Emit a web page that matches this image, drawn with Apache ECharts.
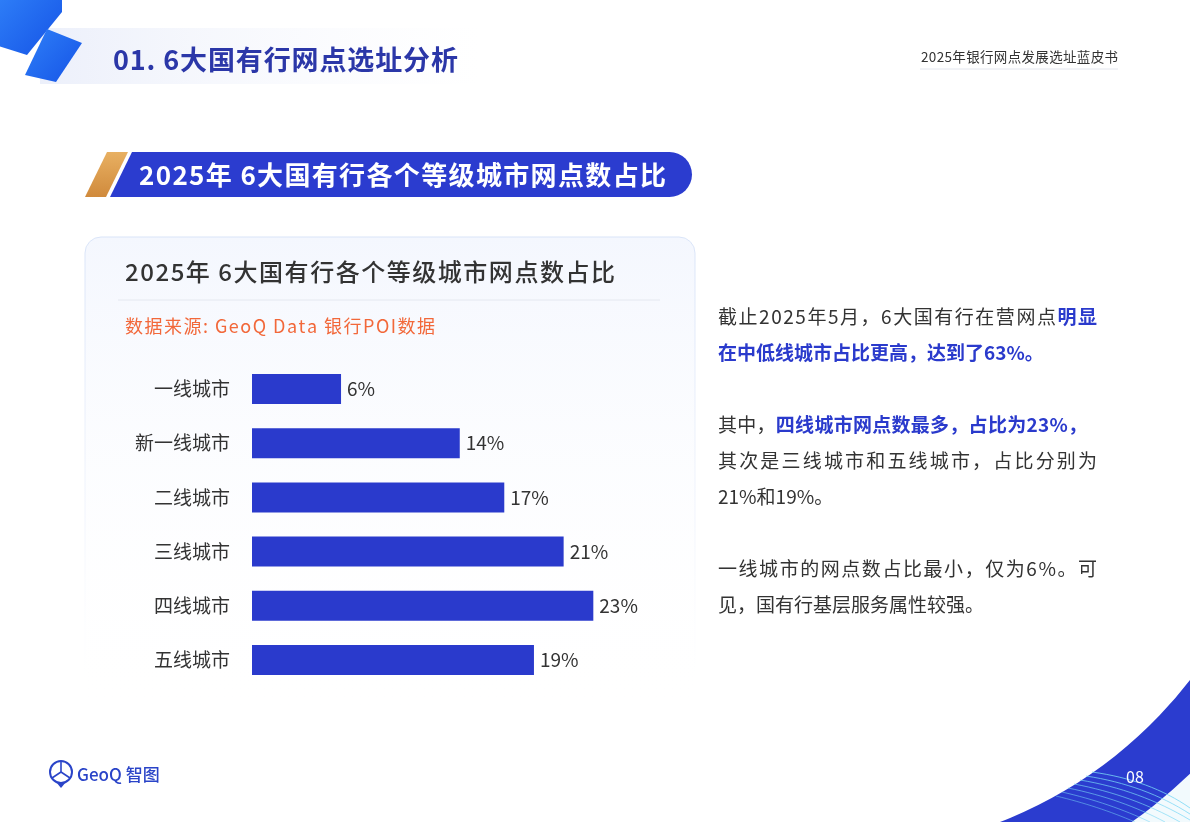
<!DOCTYPE html>
<html><head><meta charset="utf-8">
<script src="https://cdn.jsdelivr.net/npm/echarts@6/dist/echarts.min.js"></script>
<style>html,body{margin:0;padding:0;background:#fff;}#c{width:1190px;height:822px;}</style>
</head><body><div id="c"></div>
<script>
const categories = ['一线城市','新一线城市','二线城市','三线城市','四线城市','五线城市'];
const shares = [6, 14, 17, 21, 23, 19];
const xTicks = [0, 25];

const FONT = '"Noto Sans CJK SC","Noto Sans",sans-serif';
const BLUE = '#2a3acc';
const chart = echarts.init(document.getElementById('c'), null, {renderer:'canvas'});

const mctx = document.createElement('canvas').getContext('2d');
// lay out text segments char by char, spread to a target width
function spread(x, y, width, segs, z){
  const chars = [];
  segs.forEach(s => { for (const ch of s.t) { mctx.font = s.f; chars.push({ch:ch, f:s.f, c:s.c, w:mctx.measureText(ch).width}); } });
  const total = chars.reduce((a,b)=>a+b.w,0);
  const gap = chars.length > 1 ? Math.max(0, (width - total)/(chars.length-1)) : 0;
  let cx = x; const out = [];
  chars.forEach(o => { out.push({type:'text', silent:true, z:z||3, style:{x:cx, y:y, text:o.ch, font:o.f, fill:o.c, verticalAlign:'middle'}}); cx += o.w + gap; });
  return out;
}

function bez(p0,p1,p2,p3,n){
  const pts=[];
  for(let i=0;i<=n;i++){const t=i/n,u=1-t;
    pts.push([u*u*u*p0[0]+3*u*u*t*p1[0]+3*u*t*t*p2[0]+t*t*t*p3[0], u*u*u*p0[1]+3*u*u*t*p1[1]+3*u*t*t*p2[1]+t*t*t*p3[1]]);}
  return pts;
}
function cyan(x1,y1,x2,y2,cx,cy,a){
  const pts = bez([x1,y1],[x1+(cx-x1)*2/3,y1+(cy-y1)*2/3],[x2+(cx-x2)*2/3,y2+(cy-y2)*2/3],[x2,y2],16);
  const segs = [];
  for (let i=0;i<pts.length-1;i++) segs.push({type:'line', silent:true, shape:{x1:pts[i][0],y1:pts[i][1],x2:pts[i+1][0],y2:pts[i+1][1]}, style:{stroke:'rgba(120,215,245,'+a+')',lineWidth:1}, z:5});
  return segs;
}
const blueGrad = () => new echarts.graphic.LinearGradient(0,0,1,1,[{offset:0,color:'#2f80f8'},{offset:1,color:'#1553e6'}]);

const R = '19px '+FONT, B = 'bold 19px '+FONT, DK = '#333';
const RC = {cx:840.6, cy:410.6};

let graphics = [
  {type:'rect', shape:{x:40,y:28,width:440,height:56}, style:{fill:new echarts.graphic.LinearGradient(0,0,1,0,[{offset:0,color:'rgba(234,238,250,0.9)'},{offset:1,color:'rgba(246,248,253,0)'}])}, z:1},
  {type:'polygon', shape:{points:[[-5,-5],[62,-5],[62,12],[27,55],[-5,45]]}, style:{fill:blueGrad()}, z:2},
  {type:'polygon', shape:{points:[[47,29],[82,43],[56,82],[25,75]]}, style:{fill:blueGrad()}, z:2},
  {type:'line', shape:{x1:920,y1:69,x2:1118,y2:69}, style:{stroke:'#e3e6ee',lineWidth:1}, z:3},
  {type:'polygon', shape:{points:[[107,152],[128,152],[106,197],[85,197]]}, style:{fill:new echarts.graphic.LinearGradient(0,0,0,1,[{offset:0,color:'#e8b062'},{offset:1,color:'#d08a3c'}])}, z:2},
  {type:'polygon', shape:{points:[[132,152],[150,152],[150,197],[110,197]]}, style:{fill:'#2b3ccf'}, z:2},
  {type:'rect', shape:{x:148,y:152,width:544,height:45,r:[0,22.5,22.5,0]}, style:{fill:'#2b3ccf'}, z:2},
  {type:'rect', shape:{x:85,y:237,width:610,height:480,r:16}, style:{fill:new echarts.graphic.LinearGradient(0,0,0,1,[{offset:0,color:'#f4f7fe'},{offset:1,color:'rgba(255,255,255,0)'}]),stroke:new echarts.graphic.LinearGradient(0,0,0,1,[{offset:0,color:'#d9e4f8'},{offset:0.6,color:'rgba(230,236,250,0.5)'},{offset:1,color:'rgba(255,255,255,0)'}]),lineWidth:1}, z:0},
  {type:'line', shape:{x1:118,y1:300,x2:660,y2:300}, style:{stroke:'#e4e8f0',lineWidth:1}, z:3},
  // logo
  {type:'circle', shape:{cx:61,cy:772,r:11}, style:{fill:'none',stroke:'#2a44c8',lineWidth:2}, z:3},
  {type:'polygon', shape:{points:[[56,782],[66,782],[61,788]]}, style:{fill:'#2a44c8'}, z:3},
  {type:'line', shape:{x1:61,y1:762,x2:61,y2:772}, style:{stroke:'#2a44c8',lineWidth:1.6}, z:3},
  {type:'line', shape:{x1:61,y1:772,x2:52,y2:778}, style:{stroke:'#2a44c8',lineWidth:1.6}, z:3},
  {type:'line', shape:{x1:61,y1:772,x2:70,y2:778}, style:{stroke:'#2a44c8',lineWidth:1.6}, z:3},
  {type:'text', style:{x:77,y:775,text:'GeoQ 智图',fill:'#2a44c8',font:'500 17px '+FONT,verticalAlign:'middle'}, z:3},
  // bottom-right ribbon (annular sector)
  {type:'sector', silent:true, shape:{cx:RC.cx, cy:RC.cy, r0:504, r:800, startAngle:0.35, endAngle:1.45, clockwise:true}, style:{fill:'#f2fafd'}, z:2},
  {type:'sector', silent:true, shape:{cx:RC.cx, cy:RC.cy, r0:441.2, r:504, startAngle:0.35, endAngle:1.45, clockwise:true}, style:{fill:'#2b3ccf'}, z:3},
  {type:'text', style:{x:1135,y:777,text:'08',fill:'#ffffff',font:'16px '+FONT,align:'center',verticalAlign:'middle'}, z:6}
];

graphics = graphics
  .concat(cyan(1092,772,1190,808,1150,780,0.8))
  .concat(cyan(1086,776,1190,814,1145,785,0.75))
  .concat(cyan(1080,780,1190,820,1140,790,0.7))
  .concat(cyan(1074,784,1180,822,1132,795,0.65))
  .concat(cyan(1068,788,1165,822,1122,799,0.6))
  .concat(cyan(1062,792,1150,822,1110,803,0.55))
  .concat(cyan(1056,796,1135,822,1098,806,0.5))
  .concat(spread(113, 60, 345, [{t:'01. 6大国有行网点选址分析', f:'bold 27px '+FONT, c:'#2b37a8'}]))
  .concat(spread(921, 57, 197, [{t:'2025年银行网点发展选址蓝皮书', f:'13.5px '+FONT, c:DK}]))
  .concat(spread(139, 175, 527, [{t:'2025年 6大国有行各个等级城市网点数占比', f:'bold 26px '+FONT, c:'#fff'}], 4))
  .concat(spread(125, 272, 490, [{t:'2025年 6大国有行各个等级城市网点数占比', f:'500 24px '+FONT, c:DK}]))
  .concat(spread(125, 326, 310, [{t:'数据来源: GeoQ Data 银行POI数据', f:'18px '+FONT, c:'#f2683a'}]))
  .concat(spread(718, 317, 379, [{t:'截止2025年5月，6大国有行在营网点', f:R, c:DK},{t:'明显', f:B, c:BLUE}]))
  .concat(spread(718, 353, 325, [{t:'在中低线城市占比更高，达到了63%。', f:B, c:BLUE}]))
  .concat(spread(718, 425, 369, [{t:'其中，', f:R, c:DK},{t:'四线城市网点数最多，占比为23%，', f:B, c:BLUE}]))
  .concat(spread(718, 461, 379, [{t:'其次是三线城市和五线城市，占比分别为', f:R, c:DK}]))
  .concat(spread(718, 497, 0, [{t:'21%和19%。', f:R, c:DK}]))
  .concat(spread(718, 569, 379, [{t:'一线城市的网点数占比最小，仅为6%。可', f:R, c:DK}]))
  .concat(spread(718, 605, 264, [{t:'见，国有行基层服务属性较强。', f:R, c:DK}]));

chart.setOption({
  backgroundColor:'#fff',
  animation:false,
  graphic:graphics,
  grid:{left:252, top:362, width:371, height:325, containLabel:false},
  xAxis:{type:'value', min:xTicks[0], max:xTicks[1], show:false},
  yAxis:{type:'category', data:categories, inverse:true,
    axisLine:{show:false}, axisTick:{show:false}, splitLine:{show:false},
    axisLabel:{color:'#333', fontSize:19, fontFamily:FONT, margin:22}},
  series:[{type:'bar', data:shares, barWidth:30, z:5,
    itemStyle:{color:BLUE},
    label:{show:true, position:'right', distance:6, formatter:'{c}%', color:'#333', fontSize:19, fontFamily:FONT}}]
});
</script></body></html>
